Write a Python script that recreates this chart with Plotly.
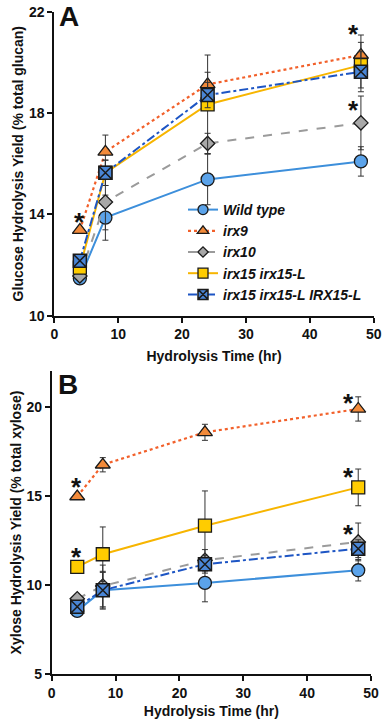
import plotly.graph_objects as go

hours = [4, 8, 24, 48]
series_names = ["Wild type", "irx9", "irx10", "irx15 irx15-L", "irx15 irx15-L IRX15-L"]

# Panel A: glucose hydrolysis yield (% total glucan)
glc_wt = [11.47, 13.87, 15.38, 16.09]
glc_irx9 = [13.38, 16.47, 19.13, 20.29]
glc_irx10 = [11.57, 14.49, 16.80, 17.61]
glc_irx15 = [11.90, 15.64, 18.34, 19.89]
glc_comp = [12.17, 15.64, 18.71, 19.63]
glc_wt_err = [0.10, 0.89, 1.00, 0.58]
glc_irx9_err = [0.10, 0.66, 0.48, 0.79]
glc_irx10_err = [0.10, 1.10, 0.40, 1.06]
glc_irx15_err = [0.15, 0.50, 1.95, 0.90]
glc_comp_err = [0.15, 0.50, 0.50, 0.79]

# Panel B: xylose hydrolysis yield (% total xylose)
xyl_wt = [8.54, 9.70, 10.11, 10.82]
xyl_irx9 = [14.96, 16.74, 18.56, 19.87]
xyl_irx10 = [9.22, 9.94, 11.38, 12.41]
xyl_irx15 = [11.01, 11.72, 13.32, 15.47]
xyl_comp = [8.77, 9.70, 11.16, 12.03]
xyl_wt_err = [0.15, 1.06, 1.06, 0.60]
xyl_irx9_err = [0.15, 0.40, 0.45, 0.68]
xyl_irx10_err = [0.20, 1.17, 0.60, 1.06]
xyl_irx15_err = [0.15, 1.53, 1.95, 1.03]
xyl_comp_err = [0.20, 1.00, 0.50, 0.50]

# significance asterisks (hours, yield)
sigA_x = [4, 46.9, 46.9]
sigA_y = [13.97, 21.41, 18.40]
sigB_x = [3.9, 3.9, 46.4, 46.4, 46.4]
sigB_y = [15.86, 11.94, 20.62, 16.42, 13.25]

x_ticks = [0, 10, 20, 30, 40, 50]
yA_ticks = [10, 14, 18, 22]
yB_ticks = [5, 10, 15, 20]

styles = [
    dict(line=dict(color="#3d8fdb", width=2, dash="solid"),
         marker=dict(symbol="circle", size=13, color="#5ba3ea", line=dict(color="#1a1a1a", width=1.3))),
    dict(line=dict(color="#f2602a", width=2.2, dash="dot"),
         marker=dict(symbol="triangle-up", size=13, color="#f28a3a", line=dict(color="#1a1a1a", width=1.3))),
    dict(line=dict(color="#9b9b9b", width=2, dash="dash"),
         marker=dict(symbol="diamond", size=11, color="#a8a8a8", line=dict(color="#1a1a1a", width=1.3))),
    dict(line=dict(color="#f7b500", width=2, dash="solid"),
         marker=dict(symbol="square", size=13, color="#ffcc00", line=dict(color="#1a1a1a", width=1.3))),
    dict(line=dict(color="#1d55c4", width=2, dash="dashdot"),
         marker=dict(symbol="square-x", size=13, color="#4a86d6", line=dict(color="#1a1a1a", width=1.5))),
]
legend_sizes = [10, 10, 8, 10, 10]

A_vals = [glc_wt, glc_irx9, glc_irx10, glc_irx15, glc_comp]
A_errs = [glc_wt_err, glc_irx9_err, glc_irx10_err, glc_irx15_err, glc_comp_err]
B_vals = [xyl_wt, xyl_irx9, xyl_irx10, xyl_irx15, xyl_comp]
B_errs = [xyl_wt_err, xyl_irx9_err, xyl_irx10_err, xyl_irx15_err, xyl_comp_err]

fig = go.Figure()
for i, name in enumerate(series_names):
    fig.add_trace(go.Scatter(
        x=hours, y=A_vals[i], mode="lines+markers", name=name,
        line=styles[i]["line"], marker=styles[i]["marker"],
        error_y=dict(type="data", array=A_errs[i], visible=True, color="#333333", thickness=1, width=3),
        xaxis="x", yaxis="y", showlegend=False))
for i, name in enumerate(series_names):
    fig.add_trace(go.Scatter(
        x=hours, y=B_vals[i], mode="lines+markers", name=name,
        line=styles[i]["line"], marker=styles[i]["marker"],
        error_y=dict(type="data", array=B_errs[i], visible=True, color="#333333", thickness=1, width=3),
        xaxis="x2", yaxis="y2", showlegend=False))
# legend entries (smaller symbols, as in the original legend)
for i, name in enumerate(series_names):
    mk = dict(styles[i]["marker"])
    mk["size"] = legend_sizes[i]
    fig.add_trace(go.Scatter(
        x=[None], y=[None], mode="lines+markers", name=f"<b><i>{name}</i></b>",
        line=styles[i]["line"], marker=mk, xaxis="x", yaxis="y", showlegend=True))

W, H = 383, 721
def fx(px):
    return px / W
def fy(py):
    return 1 - py / H

font_family = "Liberation Sans, Arial, sans-serif"
tickfont = dict(family=font_family, size=14, color="#111111")
titlefont = dict(family=font_family, size=14, color="#111111")

axis_common = dict(showgrid=False, zeroline=False, showline=True, linecolor="#111111", linewidth=1.8,
                   ticks="outside", ticklen=5, tickwidth=1.5, tickcolor="#111111", tickfont=tickfont,
                   automargin=False)

annotations = []
for xx, yy in zip(sigA_x, sigA_y):
    annotations.append(dict(x=xx, y=yy, xref="x", yref="y", text="<b>*</b>", showarrow=False,
                            font=dict(family=font_family, size=26, color="#111111"), yshift=-7))
for xx, yy in zip(sigB_x, sigB_y):
    annotations.append(dict(x=xx, y=yy, xref="x2", yref="y2", text="<b>*</b>", showarrow=False,
                            font=dict(family=font_family, size=26, color="#111111"), yshift=-7))
annotations.append(dict(x=fx(68.5), y=1, xref="paper", yref="paper", text="<b>A</b>", showarrow=False,
                        xanchor="center", yanchor="top", borderpad=0,
                        font=dict(family=font_family, size=28, color="#111111")))
annotations.append(dict(x=fx(68), y=fy(384), xref="paper", yref="paper", text="<b>B</b>", showarrow=False,
                        xanchor="center", yanchor="middle",
                        font=dict(family=font_family, size=28, color="#111111")))

fig.update_layout(
    width=W, height=H,
    margin=dict(l=0, r=0, t=0, b=0, autoexpand=False),
    paper_bgcolor="white", plot_bgcolor="white",
    xaxis=dict(domain=[fx(54.3), fx(373.7)], range=[0, 50], tickvals=x_ticks, anchor="y",
               ticktext=[f"<b>{v}</b>" for v in x_ticks],
               title=dict(text="<b>Hydrolysis Time (hr)</b>", font=titlefont, standoff=10), **axis_common),
    yaxis=dict(domain=[fy(315.7), fy(11.7)], range=[10, 22], tickvals=yA_ticks, anchor="x",
               ticktext=[f"<b>{v}</b>" for v in yA_ticks],
               title=dict(text="<b>Glucose Hydrolysis Yield (% total glucan)</b>", font=titlefont, standoff=2), **axis_common),
    xaxis2=dict(domain=[fx(51.7), fx(371)], range=[0, 50], tickvals=x_ticks, anchor="y2",
                ticktext=[f"<b>{v}</b>" for v in x_ticks],
                title=dict(text="<b>Hydrolysis Time (hr)</b>", font=titlefont, standoff=6), **axis_common),
    yaxis2=dict(domain=[fy(674), fy(371)], range=[5, 22], tickvals=yB_ticks, anchor="x2",
                ticktext=[f"<b>{v}</b>" for v in yB_ticks],
                title=dict(text="<b>Xylose Hydrolysis Yield (% total xylose)</b>", font=titlefont, standoff=2), **axis_common),
    legend=dict(x=fx(183), y=fy(194), xanchor="left", yanchor="top", bgcolor="rgba(0,0,0,0)",
                font=dict(family=font_family, size=14, color="#111111"), itemwidth=30, tracegroupgap=0,
                itemsizing="trace"),
    annotations=annotations,
    showlegend=True,
)

fig.write_html("out.html", config={"displayModeBar": False},
               post_script="document.body.style.margin='0';document.body.style.overflow='hidden';")
